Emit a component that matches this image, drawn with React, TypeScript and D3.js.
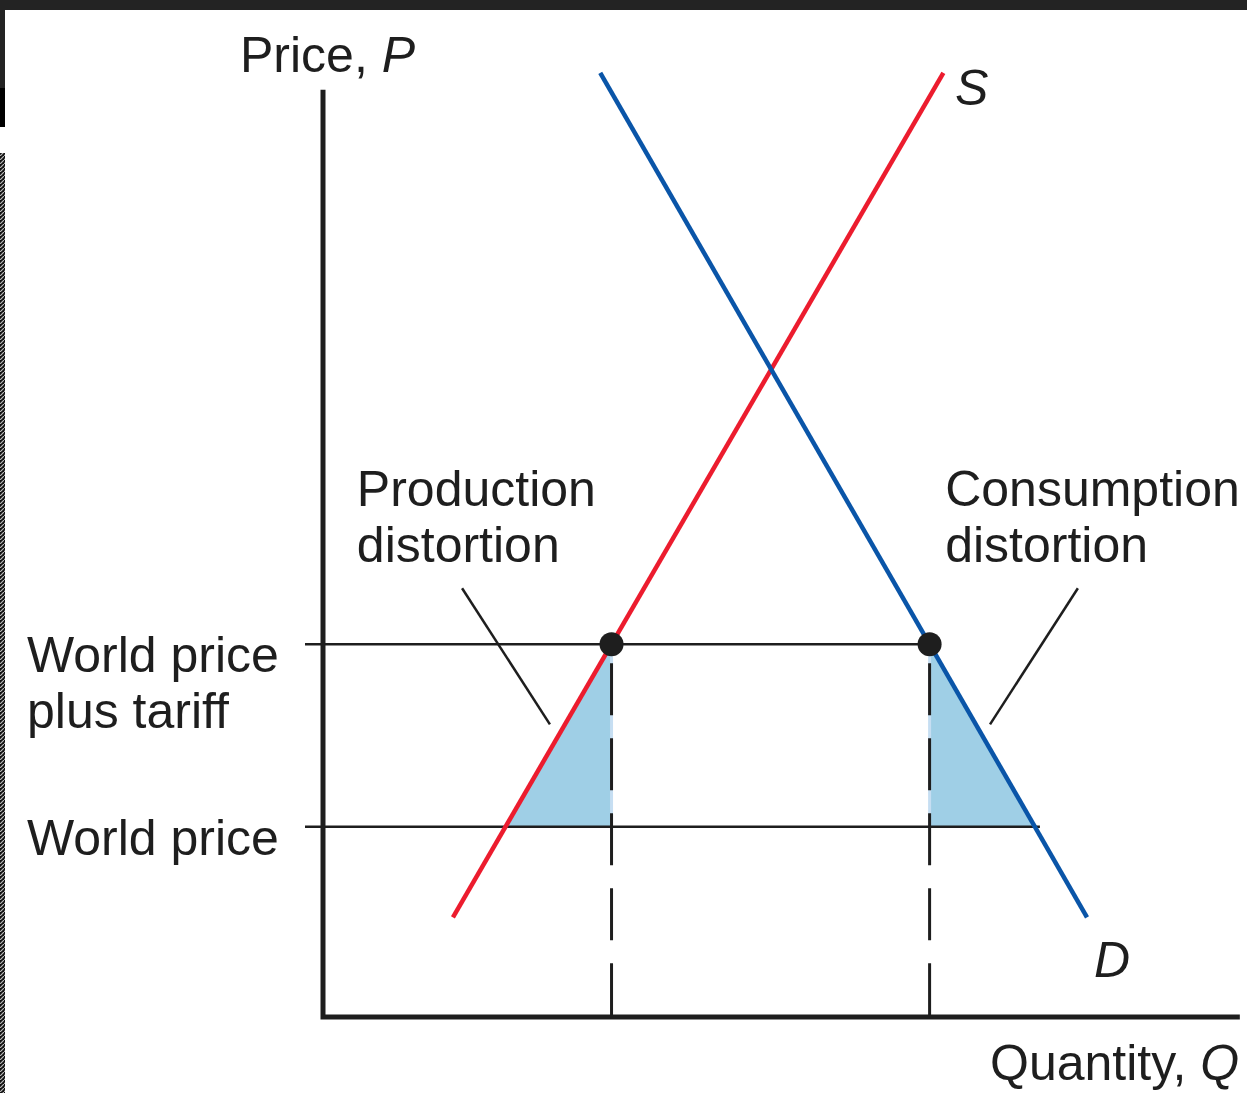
import React, { useRef, useEffect } from "react";
import * as d3 from "d3";

// economic units: quantity 0..10, price 0..10
const supplyLine = [
  { q: 1.42, p: 1.07 },
  { q: 6.78, p: 10.13 },
];
const demandLine = [
  { q: 3.03, p: 10.13 },
  { q: 8.35, p: 1.07 },
];
const priceLevels = [
  { name: "tariff", p: 4.0, labels: ["World price", "plus tariff"] },
  { name: "world", p: 2.04, labels: ["World price"] },
];
const pointers = [
  { from: { q: 1.52, p: 4.6 }, to: { q: 2.48, p: 3.14 } },
  { from: { q: 8.25, p: 4.6 }, to: { q: 7.29, p: 3.14 } },
];
const areaLabels = [
  { q: 0.37, p: 5.48, lines: ["Production", "distortion"] },
  { q: 6.8, p: 5.48, lines: ["Consumption", "distortion"] },
];

const W = 1247;
const H = 1093;
const FONT = "'Liberation Sans', Arial, sans-serif";
const INK = "#1e1e1e";

// q along a line at price p
const qAt = (line, p) => {
  const [a, b] = line;
  return a.q + ((p - a.p) * (b.q - a.q)) / (b.p - a.p);
};

const TariffChart = () => {
  const ref = useRef(null);

  useEffect(() => {
    const svg = d3.select(ref.current);
    svg.selectAll("*").remove();

    const x = d3.scaleLinear().domain([0, 10]).range([323, 1238]);
    const y = d3.scaleLinear().domain([0, 10]).range([1017, 85]);

    // screenshot frame bits
    svg.append("rect").attr("x", 0).attr("y", 0).attr("width", W).attr("height", H).attr("fill", "#fff");
    svg.append("rect").attr("x", 0).attr("y", 0).attr("width", W).attr("height", 10).attr("fill", "#232323");
    svg.append("rect").attr("x", 0).attr("y", 10).attr("width", 5).attr("height", 78).attr("fill", "#232323");
    svg.append("rect").attr("x", 0).attr("y", 88).attr("width", 5).attr("height", 39).attr("fill", "#000");
    const defs = svg.append("defs");
    const pat = defs
      .append("pattern")
      .attr("id", "hatch")
      .attr("width", 4)
      .attr("height", 4)
      .attr("patternUnits", "userSpaceOnUse");
    pat.append("rect").attr("width", 4).attr("height", 4).attr("fill", "#111");
    pat.append("path").attr("d", "M0,4 L4,0").attr("stroke", "#bbb").attr("stroke-width", 1.2);
    svg.append("rect").attr("x", 0).attr("y", 153).attr("width", 5).attr("height", H - 153).attr("fill", "url(#hatch)");

    const [tariff, world] = priceLevels;
    const qsT = qAt(supplyLine, tariff.p);
    const qsW = qAt(supplyLine, world.p);
    const qdT = qAt(demandLine, tariff.p);
    const qdW = qAt(demandLine, world.p);

    // shaded triangles
    const area = d3
      .line()
      .x((d) => x(d.q))
      .y((d) => y(d.p));
    const tris = [
      [
        { q: qsW, p: world.p },
        { q: qsT, p: tariff.p },
        { q: qsT, p: world.p },
      ],
      [
        { q: qdT, p: tariff.p },
        { q: qdT, p: world.p },
        { q: qdW, p: world.p },
      ],
    ];
    svg
      .selectAll(".tri")
      .data(tris)
      .enter()
      .append("path")
      .attr("d", (d) => area(d) + "Z")
      .attr("fill", "#9fcfe6");

    // lighter band under the dashes inside the shading
    [qsT, qdT].forEach((q) => {
      svg
        .append("line")
        .attr("x1", x(q))
        .attr("x2", x(q))
        .attr("y1", y(tariff.p) + 12)
        .attr("y2", y(world.p))
        .attr("stroke", "#c6def2")
        .attr("stroke-width", 3);
    });

    // price lines with ticks
    svg
      .append("line")
      .attr("x1", x(0) - 18)
      .attr("x2", x(qdT))
      .attr("y1", y(tariff.p))
      .attr("y2", y(tariff.p))
      .attr("stroke", INK)
      .attr("stroke-width", 2.5);
    svg
      .append("line")
      .attr("x1", x(0) - 18)
      .attr("x2", x(qdW) + 5)
      .attr("y1", y(world.p))
      .attr("y2", y(world.p))
      .attr("stroke", INK)
      .attr("stroke-width", 2.5);

    // dashed verticals
    [qsT, qdT].forEach((q) => {
      svg
        .append("line")
        .attr("x1", x(q))
        .attr("x2", x(q))
        .attr("y1", y(tariff.p) + 19)
        .attr("y2", y(0))
        .attr("stroke", INK)
        .attr("stroke-width", 3)
        .attr("stroke-dasharray", "52 23");
    });

    // supply & demand
    svg
      .append("path")
      .datum(supplyLine)
      .attr("d", area)
      .attr("fill", "none")
      .attr("stroke", "#ec1c2e")
      .attr("stroke-width", 4.5);
    svg
      .append("path")
      .datum(demandLine)
      .attr("d", area)
      .attr("fill", "none")
      .attr("stroke", "#0a55a8")
      .attr("stroke-width", 4.5);

    // dots
    svg
      .selectAll(".dot")
      .data([qsT, qdT])
      .enter()
      .append("circle")
      .attr("cx", (d) => x(d))
      .attr("cy", y(tariff.p))
      .attr("r", 12)
      .attr("fill", INK);

    // pointer lines
    svg
      .selectAll(".ptr")
      .data(pointers)
      .enter()
      .append("line")
      .attr("x1", (d) => x(d.from.q))
      .attr("y1", (d) => y(d.from.p))
      .attr("x2", (d) => x(d.to.q))
      .attr("y2", (d) => y(d.to.p))
      .attr("stroke", INK)
      .attr("stroke-width", 2.5);

    // axes
    svg
      .append("path")
      .attr("d", `M${x(0)},${y(9.95)} L${x(0)},${y(0)} L${x(10.02)},${y(0)}`)
      .attr("fill", "none")
      .attr("stroke", INK)
      .attr("stroke-width", 5)
      .attr("stroke-linejoin", "miter");

    const text = (tx, ty, parts) => {
      const t = svg
        .append("text")
        .attr("x", tx)
        .attr("y", ty)
        .attr("font-family", FONT)
        .attr("font-size", 50)
        .attr("fill", INK);
      parts.forEach((p) => {
        t.append("tspan").attr("font-style", p.italic ? "italic" : "normal").text(p.t);
      });
    };

    text(240, 72, [{ t: "Price, " }, { t: "P", italic: true }]);
    text(990, 1080, [{ t: "Quantity, " }, { t: "Q", italic: true }]);
    text(955, 105, [{ t: "S", italic: true }]);
    text(1094, 977, [{ t: "D", italic: true }]);

    priceLevels.forEach((lv) => {
      lv.labels.forEach((l, i) => {
        text(27, y(lv.p) + 28 + i * 56, [{ t: l }]);
      });
    });

    areaLabels.forEach((al) => {
      al.lines.forEach((l, i) => {
        text(x(al.q) - 0, y(al.p) + i * 56, [{ t: l }]);
      });
    });
  }, []);

  return <svg ref={ref} width={W} height={H} style={{ display: "block" }} />;
};

export default function App() {
  return (
    <div style={{ position: "absolute", left: 0, top: 0 }}>
      <TariffChart />
    </div>
  );
}
